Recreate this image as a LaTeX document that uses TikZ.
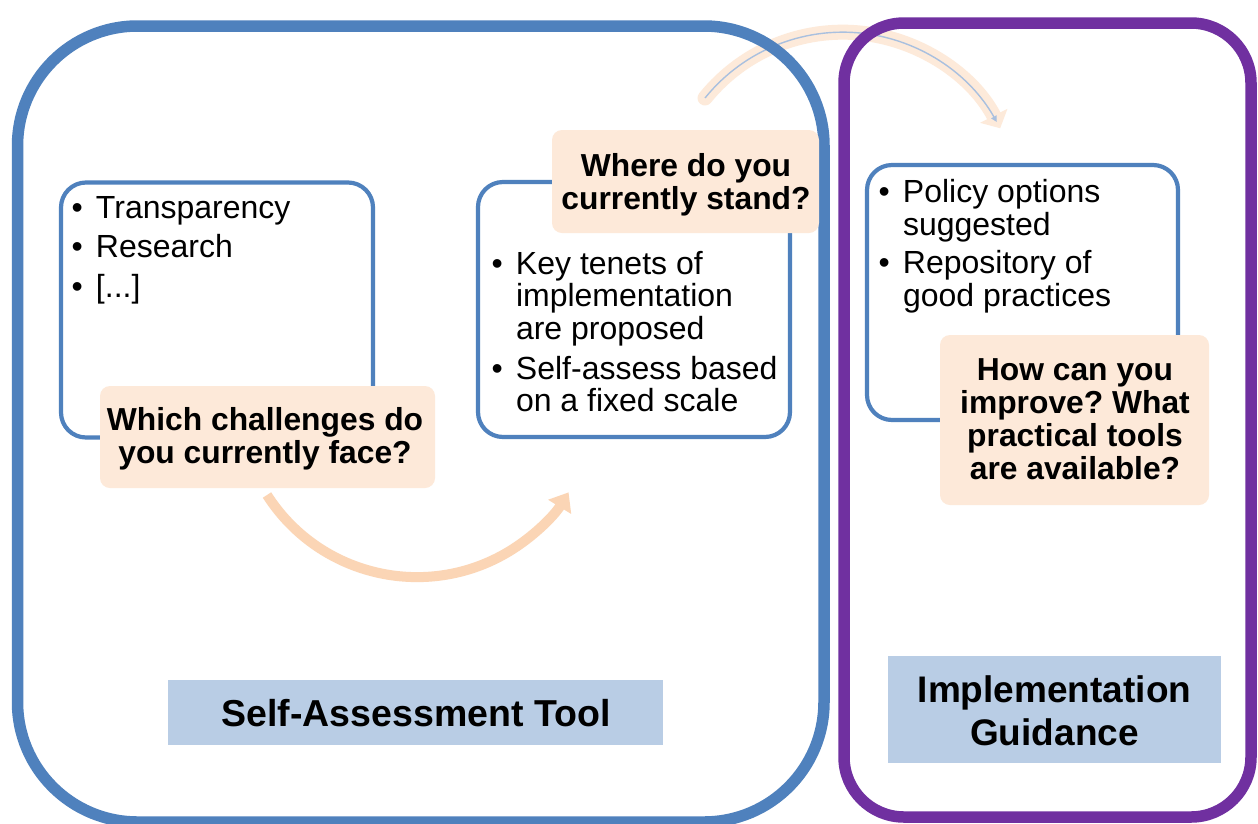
\documentclass[tikz,border=0pt]{standalone}
\usepackage{fontspec}
\setmainfont{Liberation Sans}
\usetikzlibrary{arrows.meta}
\definecolor{bigblue}{HTML}{4F81BD}
\definecolor{bigpurple}{HTML}{7030A0}
\definecolor{peachfill}{HTML}{FDE9D9}
\definecolor{labelblue}{HTML}{B9CDE5}
\definecolor{arrowpeach}{HTML}{FBD5B5}
\definecolor{arcpeach}{HTML}{FDEADA}
\definecolor{arcline}{HTML}{A9C0DF}
\newcommand\bulitem[1]{\makebox[24.5pt][l]{•}#1}
\newcommand\bulcont[1]{\hspace*{24.5pt}#1}
\frenchspacing
\begin{document}
\begin{tikzpicture}[x=1pt,y=1pt,
  bigbox/.style={draw, line width=11.5pt, inner sep=0pt},
  innerbox/.style={draw=bigblue, line width=4.2pt, rounded corners=25pt, inner sep=0pt, minimum width=312pt, minimum height=255pt},
  qlabel/.style={fill=peachfill, rounded corners=10pt, inner sep=0pt},
  tlabel/.style={fill=labelblue, inner sep=0pt},
  txt/.style={inner sep=0pt, outer sep=0pt},
  qtext/.style={txt, anchor=base, font=\fontsize{31.8}{33}\selectfont\bfseries},
  ltext/.style={txt, anchor=base west}]
\useasboundingbox (0,0) rectangle (1258,-823);
\fill[white] (0,0) rectangle (1258,-823);

% top arc arrow (behind the big frames)
\coordinate (a2s) at (705,-98);
\draw[arcpeach, line width=15pt, line cap=round, -{Triangle[width=30pt,length=14pt]}]
  (a2s) arc[start angle=141.1, end angle=27.2, radius=177];
\draw[arcline, line width=1.4pt, -{Triangle[width=6pt,length=6pt]}]
  (a2s) arc[start angle=141.1, end angle=29.5, radius=177];

% big frames
\node[bigbox, draw=bigblue, rounded corners=120pt, minimum width=806.5pt, minimum height=796pt] (sat) at (420.75,-424) {};
\node[bigbox, draw=bigpurple, rounded corners=60pt, minimum width=407pt, minimum height=794pt] (ig) at (1047.5,-420) {};

% inner boxes
\node[innerbox] (b1) at (217,-310) {};
\node[innerbox] (b2) at (634,-309.5) {};
\node[innerbox, minimum width=311pt] (b3) at (1022.5,-292.5) {};

% bottom arc arrow
\coordinate (a1s) at (267,-495);
\draw[arrowpeach, line width=10pt, -{Triangle[width=26pt,length=17pt]}]
  (a1s) arc[start angle=212.6, end angle=328.4, radius=178];

% question labels
\node[qlabel, minimum width=335pt, minimum height=102pt] (q1) at (267.5,-437) {};
\node[qlabel, minimum width=267pt, minimum height=103pt] (q2) at (685.5,-181.5) {};
\node[qlabel, minimum width=269pt, minimum height=170pt] (q3) at (1074.5,-420) {};

% title labels
\node[tlabel, minimum width=495pt, minimum height=65pt] (bl1) at (415.5,-712.5) {};
\node[tlabel, minimum width=333pt, minimum height=107pt] (bl2) at (1054.5,-709.5) {};

% bullet texts
\node[ltext, font=\fontsize{32}{39.5}\selectfont] (t1) at (71.5,-218)
  {\parbox[t]{290pt}{\raggedright
   \bulitem{Transparency}\\
   \bulitem{Research}\\
   \bulitem{[...]}}};
\node[ltext, font=\fontsize{32}{32.5}\selectfont] (t2) at (491.5,-274)
  {\parbox[t]{300pt}{\raggedright
   \bulitem{Key tenets of}\\
   \bulcont{implementation}\\
   \bulcont{are proposed}\\[7.5pt]
   \bulitem{Self-assess based}\\
   \bulcont{on a fixed scale}}};
\node[ltext, font=\fontsize{32}{33}\selectfont] (t3) at (878.5,-202)
  {\parbox[t]{290pt}{\raggedright
   \bulitem{Policy options}\\
   \bulcont{suggested}\\[5pt]
   \bulitem{Repository of}\\
   \bulcont{good practices}}};

% question texts
\node[qtext] (qt1) at (265,-430)
  {\parbox[t]{330pt}{\centering Which challenges do\\you currently face?}};
\node[qtext] (qt2) at (686,-176)
  {\parbox[t]{265pt}{\centering Where do you\\currently stand?}};
\node[qtext] (qt3) at (1075,-380)
  {\parbox[t]{265pt}{\centering How can you\\improve? What\\practical tools\\are available?}};

% title texts
\node[txt, anchor=base, font=\fontsize{37.5}{40}\selectfont\bfseries] (tt1) at (416,-726) {Self-Assessment Tool};
\node[txt, anchor=base, font=\fontsize{37}{43}\selectfont\bfseries] (tt2) at (1054.5,-702)
  {\parbox[t]{330pt}{\centering Implementation\\Guidance}};
\end{tikzpicture}
\end{document}
